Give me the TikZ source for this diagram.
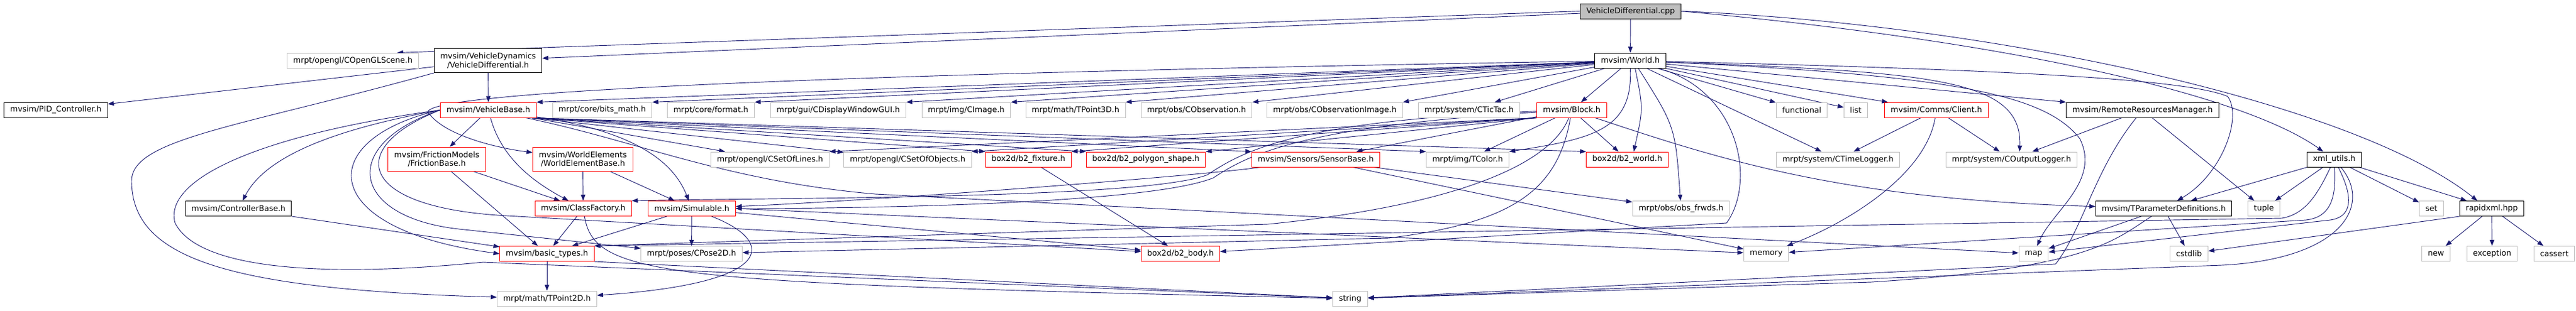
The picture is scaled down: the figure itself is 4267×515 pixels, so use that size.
\documentclass[tikz,border=0pt]{standalone}
\usepackage{fontspec}
\setmainfont{DejaVu Sans}
\usetikzlibrary{arrows.meta,backgrounds}

\definecolor{edgeblue}{HTML}{191970}
\definecolor{extgray}{HTML}{BFBFBF}

\begin{document}
\begin{tikzpicture}[x=0.75pt, y=-0.75pt,
    file/.style={draw=black, fill=white, line width=0.75pt, inner xsep=7.5pt, inner ysep=0pt,
      minimum height=18.75pt, align=center, font=\fontsize{9.75}{10.75}\selectfont},
    redfile/.style={file, draw=red},
    extfile/.style={file, draw=extgray},
    twoline/.style={minimum height=30pt},
    dep/.style={draw=edgeblue, line width=0.7pt, -{Triangle[length=7.5pt,width=5.5pt]}}]
    \useasboundingbox (0,0) rectangle (4267,515);

    % top of the graph
    \node[file, fill=extgray] (vdcpp) at (2701,18.5) {VehicleDifferential.cpp};
    \node[extfile] (scene) at (584.5,100.5) {mrpt/opengl/COpenGLScene.h};
    \node[file, twoline] (vdh) at (808.5,100.5) {mvsim/VehicleDynamics\\/VehicleDifferential.h};
    \node[file] (world) at (2700.5,100.5) {mvsim/World.h};

    % first row
    \node[file] (pid) at (92.5,182.5) {mvsim/PID\_Controller.h};
    \node[redfile] (vbase) at (809,182.5) {mvsim/VehicleBase.h};
    \node[extfile] (bitsmath) at (997.5,182.5) {mrpt/core/bits\_math.h};
    \node[extfile] (format) at (1177.5,182.5) {mrpt/core/format.h};
    \node[extfile] (gui) at (1388.5,182.5) {mrpt/gui/CDisplayWindowGUI.h};
    \node[extfile] (cimage) at (1600.5,182.5) {mrpt/img/CImage.h};
    \node[extfile] (tpoint3d) at (1781.5,182.5) {mrpt/math/TPoint3D.h};
    \node[extfile] (cobs) at (1982,182.5) {mrpt/obs/CObservation.h};
    \node[extfile] (cobsimg) at (2211,182.5) {mrpt/obs/CObservationImage.h};
    \node[extfile] (tictac) at (2433.5,182.5) {mrpt/system/CTicTac.h};
    \node[redfile] (block) at (2603.5,182.5) {mvsim/Block.h};
    \node[extfile] (functional) at (2984.5,182.5) {functional};
    \node[extfile] (list) at (3074,182.5) {list};
    \node[redfile] (client) at (3207.5,182.5) {mvsim/Comms/Client.h};
    \node[file] (rrm) at (3549,182.5) {mvsim/RemoteResourcesManager.h};

    % second row
    \node[redfile, twoline] (friction) at (723.5,264) {mvsim/FrictionModels\\/FrictionBase.h};
    \node[redfile, twoline] (worldelem) at (965.5,264) {mvsim/WorldElements\\/WorldElementBase.h};
    \node[extfile] (setoflines) at (1275.5,264.5) {mrpt/opengl/CSetOfLines.h};
    \node[extfile] (setofobjects) at (1503.5,264.5) {mrpt/opengl/CSetOfObjects.h};
    \node[redfile] (fixture) at (1703.5,264.5) {box2d/b2\_fixture.h};
    \node[redfile] (polygon) at (1898,264.5) {box2d/b2\_polygon\_shape.h};
    \node[redfile] (sensorbase) at (2179.5,264.5) {mvsim/Sensors/SensorBase.h};
    \node[extfile] (tcolor) at (2431,264.5) {mrpt/img/TColor.h};
    \node[redfile] (b2world) at (2695.5,264.5) {box2d/b2\_world.h};
    \node[extfile] (timelogger) at (3044.5,264.5) {mrpt/system/CTimeLogger.h};
    \node[extfile] (outputlogger) at (3332,264.5) {mrpt/system/COutputLogger.h};
    \node[file] (xmlutils) at (3866.5,264.5) {xml\_utils.h};

    % third row
    \node[file] (ctrlbase) at (395,346) {mvsim/ControllerBase.h};
    \node[redfile] (classfactory) at (966,346) {mvsim/ClassFactory.h};
    \node[redfile] (simulable) at (1146,346) {mvsim/Simulable.h};
    \node[extfile] (obsfrwds) at (2784.5,346) {mrpt/obs/obs\_frwds.h};
    \node[file] (tparam) at (3584,346) {mvsim/TParameterDefinitions.h};
    \node[extfile] (tuple) at (3750,346) {tuple};
    \node[extfile] (set) at (4027.5,346) {set};
    \node[file] (rapidxml) at (4127.5,346) {rapidxml.hpp};

    % fourth row
    \node[redfile] (basictypes) at (906,421) {mvsim/basic\_types.h};
    \node[extfile] (cpose2d) at (1145.5,421) {mrpt/poses/CPose2D.h};
    \node[redfile] (b2body) at (1955.5,421) {box2d/b2\_body.h};
    \node[extfile] (memory) at (2925.5,421) {memory};
    \node[extfile] (map) at (3368.5,421) {map};
    \node[extfile] (cstdlib) at (3626,421) {cstdlib};
    \node[extfile] (new) at (4035,421) {new};
    \node[extfile] (exception) at (4128,421) {exception};
    \node[extfile] (cassert) at (4231,421) {cassert};

    % bottom row
    \node[extfile] (tpoint2d) at (906,495.5) {mrpt/math/TPoint2D.h};
    \node[extfile] (string) at (2236.5,495.5) {string};

    \begin{scope}[on background layer]
    % VehicleDifferential.cpp
    \draw[dep] (vdcpp.west) -- ([xshift=-27pt]scene.north east);
    \draw[dep] (vdcpp) -- (vdh);
    \draw[dep] (vdcpp) -- (world);
    \draw[dep] (vdcpp.east) .. controls (3350,70) and (3720,160) .. (xmlutils);
    \draw[dep] (vdcpp.east) .. controls (3300,40) and (3900,170) .. ([xshift=-18pt]rapidxml.north);

    % VehicleDifferential.h
    \draw[dep] (vdh) -- (pid);
    \draw[dep] (vdh) -- (vbase);
    \draw[dep] (vdh.south west) .. controls (400,210) and (218,230) .. (218,300)
      .. controls (218,430) and (380,480) .. (tpoint2d);

    % World.h
    \foreach \tgt in {vbase,bitsmath,format,gui,cimage,tpoint3d,cobs,cobsimg}
      \draw[dep] (world) -- (\tgt.north east);
    \foreach \tgt in {tictac,block,functional,list,client,timelogger}
      \draw[dep] (world) -- (\tgt);
    \draw[dep] (world) -- (rrm.north west);
    \draw[dep] (world) .. controls (1500,120) and (650,150) .. (712,190)
      .. controls (740,225) and (820,245) .. (worldelem);
    \draw[dep] (world.south) .. controls (2705,215) and (2640,230) .. (tcolor.north east);
    \draw[dep] ([xshift=6pt]world.south) .. controls (2722,180) .. ([xshift=8pt]b2world.north);
    \draw[dep] ([xshift=10pt]world.south) .. controls (2775,210) .. (obsfrwds);
    \draw[dep] (world) .. controls (2880,150) and (2910,300) .. (2860,370) -- (b2body);
    \draw[dep] (world) .. controls (3200,120) and (3350,130) .. ([xshift=10pt]outputlogger.north);
    \draw[dep] (world) .. controls (3250,125) and (3390,160) .. (3445,230)
      .. controls (3480,300) and (3400,350) .. (map);
    \draw[dep] (world) .. controls (3300,115) and (3620,130) .. (3690,160)
      .. controls (3715,195) and (3680,290) .. (tparam);

    % VehicleBase.h
    \draw[dep] (vbase) -- (friction);
    \draw[dep] (vbase.west) .. controls (550,215) and (440,260) .. (ctrlbase);
    \draw[dep] (vbase) .. controls (830,260) and (880,300) .. (classfactory);
    \draw[dep] (vbase) .. controls (1070,220) and (1120,280) .. (simulable);
    \foreach \tgt in {setoflines,setofobjects}
      \draw[dep] ([xshift=-6pt]vbase.south east) -- (\tgt);
    \foreach \tgt in {fixture,polygon,sensorbase,tcolor,b2world}
      \draw[dep] ([xshift=-6pt]vbase.south east) -- (\tgt.north west);
    \draw[dep] (vbase.west) .. controls (520,230) and (520,380) .. (basictypes.west);
    \draw[dep] (vbase.west) .. controls (560,240) and (580,360) .. (760,380) -- (cpose2d);
    \draw[dep] (vbase.west) .. controls (570,245) and (590,345) .. (840,358) -- (b2body);
    \draw[dep] (vbase.west) .. controls (420,225) and (270,300) .. (290,370)
      .. controls (330,450) and (550,460) .. (800,435) -- (string);
    \draw[dep] (vbase) .. controls (1060,235) and (1200,300) .. (1450,322) -- (map);

    % Block.h
    \foreach \tgt in {setoflines,setofobjects,fixture,polygon}
      \draw[dep] (block.south west) -- (\tgt.north east);
    \foreach \tgt in {sensorbase,tcolor,b2world}
      \draw[dep] (block) -- (\tgt);
    \draw[dep] (block) .. controls (2850,265) and (3050,330) .. (tparam);
    \draw[dep] (block) .. controls (2150,200) and (2060,250) .. (2000,290)
      .. controls (1900,330) and (1300,328) .. (classfactory.north east);
    \draw[dep] (block) .. controls (2160,210) and (2070,255) .. (2010,295)
      .. controls (1900,340) and (1400,346) .. (simulable);
    \draw[dep] (block) .. controls (2570,270) and (2420,340) .. (2100,372) -- (basictypes.north east);
    \draw[dep] (block) .. controls (2580,320) and (2500,370) .. (2300,395) -- (cpose2d);

    % the others
    \draw[dep] (friction) -- (classfactory);
    \draw[dep] (friction) -- (basictypes);
    \draw[dep] (worldelem) -- (classfactory);
    \draw[dep] (worldelem) -- (simulable);
    \draw[dep] (ctrlbase) -- (basictypes);
    \draw[dep] (classfactory) -- (basictypes);
    \draw[dep] (classfactory) .. controls (985,460) and (1100,470) .. (string);
    \draw[dep] (simulable) -- (basictypes);
    \draw[dep] (simulable) -- (cpose2d);
    \draw[dep] (simulable) -- (b2body);
    \draw[dep] (simulable.east) -- (memory);
    \draw[dep] ([xshift=-30pt]simulable.south east) .. controls (1285,400) and (1290,470) .. (tpoint2d);
    \draw[dep] (basictypes) -- (tpoint2d);
    \draw[dep] (basictypes.south east) -- (string);
    \draw[dep] (fixture) -- (b2body);
    \draw[dep] (sensorbase) -- (obsfrwds);
    \draw[dep] (sensorbase) -- (memory);
    \draw[dep] (sensorbase) .. controls (2000,290) and (1500,330) .. (simulable);
    \draw[dep] (client) -- (timelogger);
    \draw[dep] (client) -- (outputlogger);
    \draw[dep] (client) .. controls (3190,290) and (3060,370) .. (memory);
    \draw[dep] (rrm) -- (outputlogger);
    \draw[dep] (rrm) -- (tuple);
    \draw[dep] (rrm) .. controls (3470,280) and (3450,380) .. (3405,438) -- (string);
    \draw[dep] (tparam) -- (cstdlib);
    \draw[dep] (tparam) -- (map);
    \draw[dep] (tparam) .. controls (3500,400) and (3460,445) .. (3100,468) -- (string);

    % xml_utils.h and rapidxml.hpp
    \foreach \tgt in {tparam,tuple,set,rapidxml}
      \draw[dep] (xmlutils) -- (\tgt);
    \draw[dep] (xmlutils) .. controls (3900,330) and (3895,360) .. (3860,365) -- (map);
    \draw[dep] (xmlutils) .. controls (3870,330) and (3860,360) .. (3820,365) -- (memory);
    \draw[dep] (xmlutils) .. controls (3840,320) and (3820,355) .. (3780,362) -- (basictypes.north east);
    \draw[dep] (xmlutils) .. controls (3930,340) and (3880,430) .. (3680,440) -- (string);
    \foreach \tgt in {new,exception,cassert}
      \draw[dep] (rapidxml) -- (\tgt);
    \draw[dep] (rapidxml.south west) -- (cstdlib);
    \end{scope}
\end{tikzpicture}
\end{document}
